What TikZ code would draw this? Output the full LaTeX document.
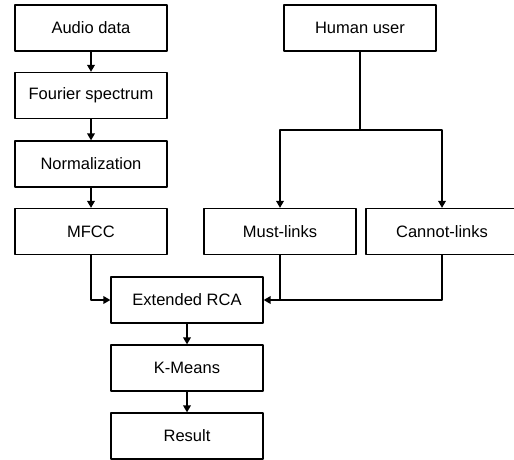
\documentclass[tikz,border=0pt]{standalone}
\usepackage{fontspec}
\setmainfont{Liberation Sans}
\usetikzlibrary{arrows.meta}
\tikzset{
  every picture/.style={line join=round, >={Stealth[inset=0pt,length=7pt,width=7.5pt]}},
  box/.style={draw, line width=1.2pt, minimum width=152pt, minimum height=46pt, inner sep=0pt,
    font=\fontsize{16.5}{19}\selectfont},
  line/.style={line width=1.8pt},
  link/.style={line, ->},
}

\begin{document}
\begin{tikzpicture}[x=1pt,y=-1pt]
\clip (0,0) rectangle (514,460);
% left column
\node[box](audio) at (91,28){Audio data};
\node[box](fourier) at (91,95.5){Fourier spectrum};
\node[box](norm) at (91,164){Normalization};
\node[box](mfcc) at (91,231.5){MFCC};
% user side
\node[box](human) at (360,28){Human user};
\node[box](must) at (280,231.5){Must-links};
\node[box](cannot) at (442,231.5){Cannot-links};
\coordinate(split) at (360,130);
% bottom
\node[box](rca) at (187,300){Extended RCA};
\node[box](kmeans) at (187,368){K-Means};
\node[box](result) at (187,436){Result};

\draw[link](audio)--(fourier);
\draw[link](fourier)--(norm);
\draw[link](norm)--(mfcc);
\draw[line](human)--(split);
\draw[link](split)-|(must);
\draw[link](split)-|(cannot);
\draw[link](mfcc)|-(rca);
\draw[line](must)--(must|-rca);
\draw[link](cannot)|-(rca);
\draw[link](rca)--(kmeans);
\draw[link](kmeans)--(result);
\end{tikzpicture}
\end{document}
